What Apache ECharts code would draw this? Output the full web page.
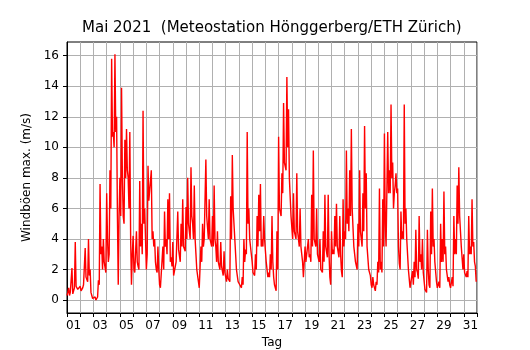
<!DOCTYPE html>
<html>
<head>
<meta charset="utf-8">
<script src="https://cdn.jsdelivr.net/npm/echarts@6/dist/echarts.min.js"></script>
<style>html,body{margin:0;padding:0;background:#fff}#c{width:530px;height:350px}</style>
</head>
<body>
<div id="c"></div>
<script>
// Gust maxima, May 2021, m/s. 8 slots per day (every 3 h):
// gustHigh = upper reading of each slot, gustLow = lower reading half a slot later
const stepsPerDay = 8;
const gustHigh = [
  0.3, 0.8, 0.5, 2.1, 0.6, 3.8, 1.0, 0.8,    // 01
  0.9, 0.7, 1.0, 3.4, 1.5, 4.0, 2.0, 0.3,    // 02
  0.1, 0.2, 0.1, 1.3, 7.6, 3.5, 4.0, 2.5,    // 03
  7.0, 2.5, 8.5, 15.8, 11.0, 16.1, 12.0, 1.0,// 04
  8.0, 13.9, 5.5, 10.5, 11.2, 8.0, 11.0, 1.0,// 05
  4.2, 1.8, 4.5, 2.2, 7.8, 5.0, 12.4, 6.0,   // 06
  2.0, 8.8, 6.5, 8.5, 4.5, 4.0, 2.0, 3.5,    // 07
  1.0, 0.7, 3.5, 5.8, 4.0, 6.6, 7.0, 2.8,    // 08
  3.8, 1.5, 2.5, 5.8, 3.3, 5.0, 6.6, 3.5,    // 09
  6.1, 8.0, 4.5, 8.7, 5.0, 7.5, 3.0, 2.0,    // 10
  0.8, 3.5, 5.0, 4.0, 9.2, 5.5, 6.6, 4.0,    // 11
  5.5, 7.5, 3.5, 4.5, 2.4, 3.8, 2.2, 3.2,    // 12
  1.5, 2.0, 1.4, 6.8, 9.5, 6.0, 4.0, 1.6,    // 13
  1.2, 0.9, 1.5, 4.0, 3.3, 11.0, 6.0, 4.0,   // 14
  2.5, 1.8, 3.0, 5.5, 6.9, 7.6, 4.0, 5.5,    // 15
  4.0, 2.5, 1.8, 3.0, 5.5, 1.5, 0.8, 4.5,    // 16
  10.7, 6.0, 8.3, 12.9, 9.0, 14.6, 12.5, 8.0,// 17
  5.5, 7.0, 4.5, 8.3, 4.0, 6.0, 3.5, 1.5,    // 18
  3.5, 2.6, 4.0, 3.0, 6.9, 9.8, 4.0, 6.0,    // 19
  3.0, 4.0, 2.0, 4.5, 6.9, 3.5, 6.9, 1.5,    // 20
  4.5, 3.3, 5.5, 6.3, 3.5, 5.5, 1.9, 6.6,    // 21
  4.5, 9.8, 6.0, 8.5, 11.2, 6.0, 3.5, 2.4,   // 22
  5.0, 8.5, 4.0, 7.0, 11.4, 8.3, 3.5, 2.0,   // 23
  1.0, 1.5, 0.8, 1.2, 2.5, 7.3, 2.5, 6.6,    // 24
  10.9, 3.5, 11.0, 8.5, 12.8, 9.0, 7.0, 8.3, // 25
  7.3, 2.4, 5.8, 4.5, 12.8, 6.0, 4.0, 1.4,   // 26
  0.8, 1.9, 2.5, 4.6, 1.8, 5.5, 3.0, 4.0,    // 27
  1.8, 0.6, 4.6, 1.0, 5.8, 7.3, 4.0, 2.6,    // 28
  0.8, 1.2, 5.0, 4.0, 7.1, 3.5, 2.0, 1.5,    // 29
  0.8, 1.5, 5.5, 4.0, 7.5, 8.7, 5.5, 3.5,    // 30
  3.0, 1.8, 1.9, 5.5, 3.5, 6.6, 3.8, 2.2     // 31
];
const gustLow = [
  0.5, 0.3, 0.6, 0.4, 0.8, 0.9, 0.7, 0.6,    // 01
  0.6, 0.8, 0.9, 1.5, 1.2, 1.6, 0.5, 0.1,    // 02
  0.1, 0.0, 0.2, 1.0, 3.0, 2.0, 2.5, 1.8,    // 03
  4.0, 3.0, 6.0, 10.7, 10.0, 11.0, 5.5, 5.5, // 04
  5.5, 8.0, 5.0, 8.0, 8.5, 6.0, 4.0, 3.0,    // 05
  2.0, 1.8, 2.5, 2.0, 3.5, 3.0, 5.0, 4.0,    // 06
  3.0, 6.5, 6.5, 4.0, 3.5, 2.5, 1.8, 2.0,    // 07
  0.8, 0.7, 2.0, 3.5, 3.0, 4.0, 2.5, 2.2,    // 08
  1.6, 1.5, 2.5, 3.3, 2.5, 3.5, 3.5, 3.2,    // 09
  4.0, 5.0, 4.0, 5.5, 4.0, 4.0, 2.0, 1.2,    // 10
  0.8, 2.5, 3.5, 4.0, 5.5, 4.0, 4.0, 3.5,    // 11
  3.5, 4.0, 2.5, 2.5, 2.0, 2.2, 1.6, 1.8,    // 12
  1.2, 1.4, 1.2, 4.0, 6.0, 4.0, 2.0, 1.2,    // 13
  1.0, 0.8, 1.0, 2.5, 3.0, 5.0, 4.0, 3.0,    // 14
  1.8, 1.6, 2.0, 3.5, 4.5, 3.5, 3.5, 4.0,    // 15
  2.5, 1.5, 1.5, 2.0, 2.5, 1.0, 0.6, 2.0,    // 16
  6.0, 5.5, 7.0, 9.0, 8.5, 10.0, 8.0, 5.5,   // 17
  4.0, 4.5, 4.0, 4.5, 3.5, 3.5, 2.5, 1.5,    // 18
  2.5, 2.5, 2.8, 2.5, 3.5, 4.0, 3.5, 3.0,    // 19
  2.5, 2.0, 1.8, 2.5, 3.5, 2.8, 3.0, 1.0,    // 20
  3.0, 3.0, 3.5, 3.5, 2.8, 3.0, 1.5, 3.5,    // 21
  4.0, 5.0, 4.5, 5.5, 6.0, 3.5, 2.5, 2.0,    // 22
  3.5, 4.5, 3.5, 4.5, 6.0, 3.5, 2.0, 1.6,    // 23
  0.8, 1.0, 0.6, 1.0, 1.8, 2.0, 1.8, 3.5,    // 24
  5.0, 3.5, 7.0, 7.0, 8.0, 6.0, 7.5, 7.0,    // 25
  3.5, 2.0, 4.0, 4.0, 5.0, 4.0, 2.0, 0.8,    // 26
  0.8, 1.0, 1.5, 2.0, 1.4, 2.5, 2.0, 1.8,    // 27
  0.7, 0.5, 2.0, 0.8, 3.0, 3.5, 2.5, 1.2,    // 28
  0.8, 0.8, 2.5, 2.5, 3.0, 2.0, 1.2, 1.0,    // 29
  0.7, 0.9, 3.0, 3.0, 5.0, 5.5, 3.5, 2.0,    // 30
  1.8, 1.5, 1.5, 3.0, 3.0, 3.5, 2.5, 1.2     // 31
];
const dayLabels = ['01','03','05','07','09','11','13','15','17','19','21','23','25','27','29','31'];
const dayLabelPos = [0.5,2.5,4.5,6.5,8.5,10.5,12.5,14.5,16.5,18.5,20.5,22.5,24.5,26.5,28.5,30.5];
const yTicks = [0,2,4,6,8,10,12,14,16];

const seriesData = [];
gustHigh.forEach((v, i) => {
  seriesData.push([i / stepsPerDay, v]);
  seriesData.push([(i + 0.5) / stepsPerDay, gustLow[i]]);
});
const font = 'DejaVu Sans';
const chart = echarts.init(document.getElementById('c'), null, {renderer: 'canvas'});
chart.setOption({
  animation: false,
  backgroundColor: '#fff',
  title: {
    text: 'Mai 2021  (Meteostation Hönggerberg/ETH Zürich)',
    left: 77, top: 16,
    textStyle: {fontFamily: font, fontSize: 15, fontWeight: 'normal', color: '#000'}
  },
  grid: {left: 67, right: 53, top: 42, bottom: 37, show: true, borderColor: '#000', borderWidth: 1,
         containLabel: false, outerBoundsMode: 'none'},
  xAxis: {
    type: 'value', min: 0, max: 31, interval: 1,
    name: 'Tag', nameLocation: 'middle', nameGap: 24,
    nameTextStyle: {fontFamily: font, fontSize: 12, color: '#000'},
    axisLine: {show: true, onZero: false, lineStyle: {color: '#000', width: 1}},
    axisTick: {show: true, length: 4, lineStyle: {color: '#000'}},
    axisLabel: {
      customValues: dayLabelPos, margin: 7,
      fontFamily: font, fontSize: 12, color: '#000',
      formatter: v => dayLabels[dayLabelPos.indexOf(v)] || ''
    },
    splitLine: {show: true, lineStyle: {color: '#b0b0b0', width: 1}}
  },
  yAxis: {
    type: 'value', min: -0.85, max: 16.9,
    name: 'Windböen max. (m/s)', nameLocation: 'middle', nameGap: 34, nameRotate: 90,
    nameTextStyle: {fontFamily: font, fontSize: 12, color: '#000'},
    axisLine: {show: true, onZero: false, lineStyle: {color: '#000', width: 1}},
    axisTick: {show: true, length: 4, customValues: yTicks, lineStyle: {color: '#000'}},
    axisLabel: {customValues: yTicks, margin: 8, fontFamily: font, fontSize: 12, color: '#000'},
    splitLine: {show: true, lineStyle: {color: '#b0b0b0', width: 1}}
  },
  series: [{
    type: 'line', data: seriesData, showSymbol: false,
    lineStyle: {color: '#ff0000', width: 1.4}, itemStyle: {color: '#ff0000'}
  }]
});
</script>
</body>
</html>
